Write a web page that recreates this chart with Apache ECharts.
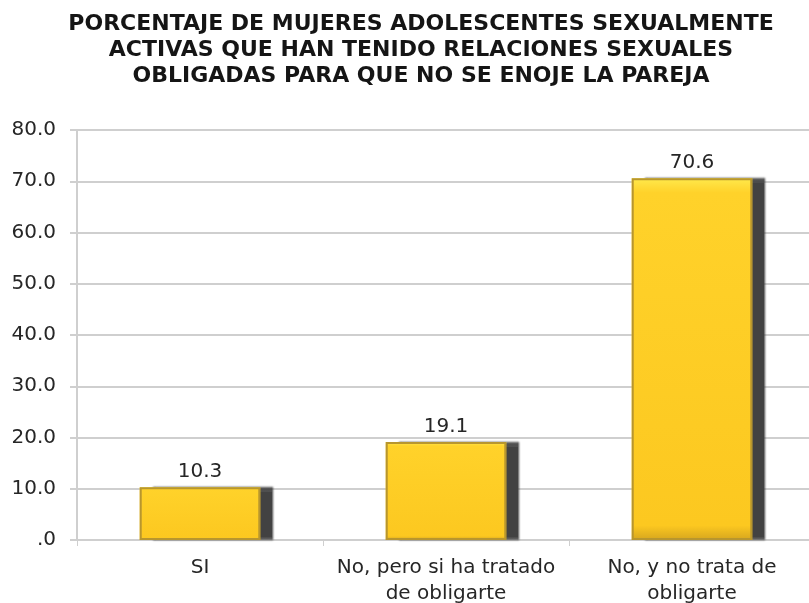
<!DOCTYPE html>
<html>
<head>
<meta charset="utf-8">
<script src="https://cdn.jsdelivr.net/npm/echarts@6/dist/echarts.min.js"></script>
<style>
  html, body { margin: 0; padding: 0; background: #fff; }
  #chart { width: 809px; height: 603px; }
</style>
</head>
<body>
<div id="chart"></div>
<script>
// Respuestas y porcentajes
const categories = ['SI', 'No, pero si ha tratado\nde obligarte', 'No, y no trata de\nobligarte'];
const values = [10.3, 19.1, 70.6];
const titleLines = [
  'PORCENTAJE DE MUJERES ADOLESCENTES SEXUALMENTE',
  'ACTIVAS QUE HAN TENIDO RELACIONES SEXUALES',
  'OBLIGADAS PARA QUE NO SE ENOJE LA PAREJA'
];

const fontFamily = '"DejaVu Sans", Verdana, sans-serif';
const textColor = '#262626';
const chart = echarts.init(document.getElementById('chart'));

chart.setOption({
  backgroundColor: '#ffffff',
  animation: false,
  graphic: [{
    type: 'text',
    x: 421,
    y: 11,
    style: {
      text: titleLines.join('\n'),
      align: 'center',
      verticalAlign: 'top',
      font: 'bold 22px "DejaVu Sans", Verdana, sans-serif',
      lineHeight: 26,
      fill: '#151515'
    }
  }],
  grid: {
    left: 77, right: -6, top: 130, bottom: 63,
    containLabel: false,
    outerBoundsMode: 'none'
  },
  xAxis: {
    type: 'category',
    data: categories,
    axisLine: { lineStyle: { color: '#cfcfcf', width: 2 } },
    axisTick: { show: true, length: 6, lineStyle: { color: '#cfcfcf' } },
    axisLabel: {
      interval: 0,
      fontFamily: fontFamily,
      fontSize: 20,
      lineHeight: 26,
      color: textColor,
      margin: 15
    }
  },
  yAxis: {
    type: 'value',
    min: 0,
    max: 80,
    interval: 10,
    axisLine: { show: true, lineStyle: { color: '#cfcfcf', width: 2 } },
    axisTick: { show: true, length: 7, lineStyle: { color: '#cfcfcf', width: 2 } },
    splitLine: { lineStyle: { color: '#cfcfcf', width: 2 } },
    axisLabel: {
      fontFamily: fontFamily,
      fontSize: 20,
      color: textColor,
      margin: 21,
      formatter: function (v) { return v === 0 ? '.0' : v.toFixed(1); }
    }
  },
  series: [
    {
      // yellow fill with the dark drop shadow to the right
      type: 'bar',
      data: values,
      barWidth: '49%',
      z: 2,
      itemStyle: {
        color: {
          type: 'linear', x: 0, y: 0, x2: 0, y2: 1,
          colorStops: [
            { offset: 0, color: '#ffe94c' },
            { offset: 0.04, color: '#ffd22a' },
            { offset: 0.96, color: '#fcc820' },
            { offset: 1, color: '#d6a61e' }
          ]
        },
        shadowColor: '#424242',
        shadowOffsetX: 13,
        shadowOffsetY: 0,
        shadowBlur: 2
      },
      label: {
        show: true,
        position: 'top',
        distance: 5,
        fontFamily: fontFamily,
        fontSize: 20,
        color: textColor,
        formatter: function (p) { return p.value.toFixed(1); }
      }
    },
    {
      // gold outline over the same bars
      type: 'bar',
      data: values,
      barWidth: '49%',
      barGap: '-100%',
      z: 3,
      silent: true,
      itemStyle: {
        color: 'rgba(0,0,0,0)',
        borderColor: '#b8962e',
        borderWidth: 2
      }
    }
  ]
});
</script>
</body>
</html>
